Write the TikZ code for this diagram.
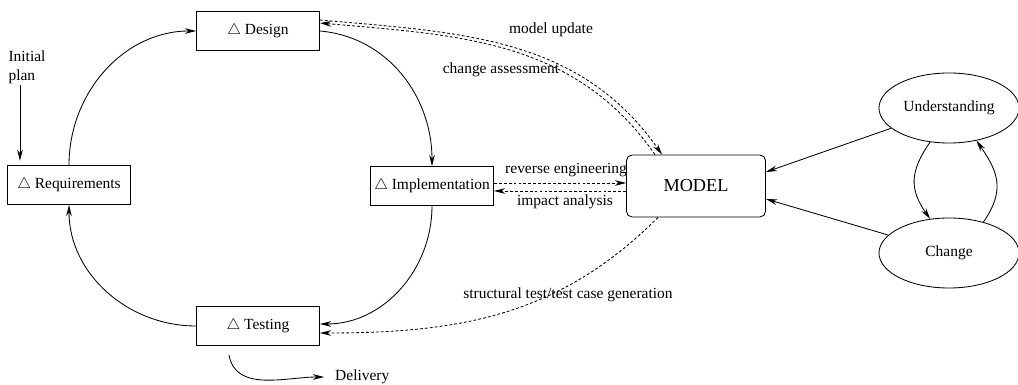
\documentclass[tikz,border=0pt]{standalone}
\usepackage{fontspec}
\setmainfont{Liberation Serif}
\usetikzlibrary{arrows.meta,shapes.geometric,calc}

\begin{document}
\begin{tikzpicture}[x=0.025cm,y=0.025cm,
    font=\fontsize{11}{13.5}\selectfont,
    line width=0.6pt,
    phase/.style={draw,minimum width=3.075cm,minimum height=0.975cm,inner sep=0pt},
    model/.style={draw,rounded corners=4pt,minimum width=3.475cm,minimum height=1.55cm,
        font=\fontsize{13}{15}\selectfont},
    activity/.style={draw,ellipse,minimum width=3.5cm,minimum height=1.75cm,inner sep=0pt},
    flow/.style={-{Stealth[length=8pt,width=4pt]}},
    info/.style={flow,dash pattern=on 2pt off 1.5pt}]
    \useasboundingbox (0,0) rectangle (1018,-385);

    \node[phase] (design) at (258,-31) {$\triangle$ Design};
    \node[phase] (req) at (69,-185) {$\triangle$ Requirements};
    \node[phase] (impl) at (432,-186) {$\triangle$ Implementation};
    \node[phase] (test) at (258,-326) {$\triangle$ Testing};
    \node[model] (model) at (696,-186) {MODEL};
    \node[activity] (under) at (949,-108) {Understanding};
    \node[activity] (change) at (949,-253) {Change};

    \node[align=left,inner sep=1pt] (plan) at (27,-67) {Initial\\plan};
    \node[anchor=west,inner sep=2pt] (deliv) at (332,-377) {Delivery};
    \coordinate (delivstart) at (229,-355);

    % life cycle
    \draw[flow] ([xshift=-5pt]plan.south) -- ([xshift=-5pt]plan.south |- req.north)
        [shorten >=3pt];
    \draw[flow] (req.north) to[out=90,in=180] (design.west);
    \draw[flow] (design.east) to[out=-5,in=90] (impl.north);
    \draw[flow] (impl.south) to[out=-90,in=0] ($(test.east)+(0,2)$);
    \draw[flow] (test.west) to[out=180,in=-90] (req.south);
    \draw[flow] (delivstart) to[out=-80,in=180] ($(deliv.west)+(-8,0)$);

    % model links
    \draw[info] ($(design.east)+(0,11)$) to[out=-5,in=125] ($(model.north)+(-34,0)$);
    \draw[info] ($(model.north)+(-41,0)$) to[out=125,in=-5] ($(design.east)+(0,8)$);
    \draw[info] ($(impl.east)+(0,3)$) -- ($(model.west)+(0,3)$);
    \draw[info] ($(model.west)+(0,-5)$) -- ($(impl.east)+(0,-5)$);
    \draw[info] ($(model.south)+(-38,0)$) to[out=-135,in=0] ($(test.east)+(0,-7)$);

    \node (lblupdate) at (551,-30) {model update};
    \node (lblassess) at (501,-70) {change assessment};
    \node (lblreverse) at (566,-170) {reverse engineering};
    \node (lblimpact) at (565,-202) {impact analysis};
    \node (lblstruct) at (568,-295) {structural test/test case generation};

    % understanding / change loop
    \draw[flow] (under) -- ($(model.east)+(0,14)$);
    \draw[flow] (change) -- ($(model.east)+(0,-13)$);
    \draw[flow] (under.241) to[out=-125,in=125,looseness=1.2] (change.119);
    \draw[flow] (change.42) to[out=55,in=-55,looseness=1.2] (under.-50);
\end{tikzpicture}
\end{document}
